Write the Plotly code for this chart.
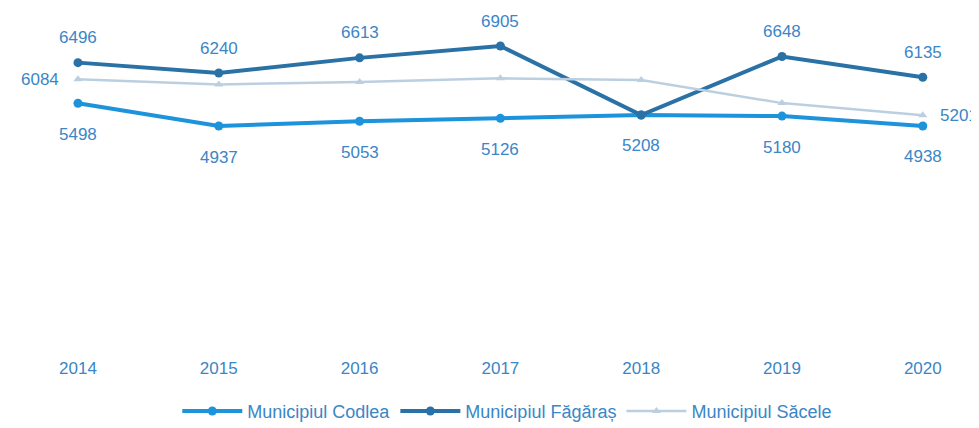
import plotly.graph_objects as go

years = ["2014", "2015", "2016", "2017", "2018", "2019", "2020"]
codlea = [5498, 4937, 5053, 5126, 5208, 5180, 4938]
fagaras = [6496, 6240, 6613, 6905, 5208, 6648, 6135]
fagaras_labels = ["6496", "6240", "6613", "6905", "", "6648", "6135"]
sacele = [6084, 5960, 6020, 6110, 6070, 5500, 5201]
sacele_labels = ["6084", "", "", "", "", "", "5201"]

c_codlea = "#1d93dc"
c_fagaras = "#2a71a6"
c_sacele = "#bccfe0"
lab_col = "#3a86c6"
font_fam = "Liberation Sans, Arial, sans-serif"

fig = go.Figure()
fig.add_trace(go.Scatter(x=years, y=codlea, name="Municipiul Codlea", mode="lines+markers",
                         line=dict(color=c_codlea, width=4), marker=dict(size=9, color=c_codlea)))
fig.add_trace(go.Scatter(x=years, y=fagaras, name="Municipiul Făgăraș", mode="lines+markers",
                         line=dict(color=c_fagaras, width=4), marker=dict(size=9, color=c_fagaras)))
fig.add_trace(go.Scatter(x=years, y=sacele, name="Municipiul Săcele", mode="lines+markers",
                         line=dict(color=c_sacele, width=2.5),
                         marker=dict(size=8, color=c_sacele, symbol="triangle-up")))

lab_font = dict(family=font_fam, size=17, color=lab_col)
for i, (v, t) in enumerate(zip(fagaras, fagaras_labels)):
    if t:
        fig.add_annotation(x=i, y=v, xref="x", yref="y", text=t, showarrow=False,
                           yshift=25, font=lab_font)
for i, v in enumerate(codlea):
    fig.add_annotation(x=i, y=v, xref="x", yref="y", text=str(v), showarrow=False,
                       yshift=-31, font=lab_font)
for i, (v, t) in enumerate(zip(sacele, sacele_labels)):
    if t:
        fig.add_annotation(x=i, y=v, xref="x", yref="y", text=t, showarrow=False,
                           xshift=-38 if i == 0 else 36, font=lab_font)

fig.update_layout(
    width=979, height=428,
    margin=dict(l=0, r=0, t=13, b=80),
    paper_bgcolor="white", plot_bgcolor="white",
    xaxis=dict(type="category", range=[-0.497, 6.456], showgrid=False, zeroline=False,
               showline=False, ticks="",
               tickfont=dict(family=font_fam, size=17, color=lab_col)),
    yaxis=dict(range=[-721, 7520], showticklabels=False, ticks="", showline=False,
               showgrid=False, zeroline=False),
    legend=dict(orientation="h", x=0.51, xanchor="center", y=-0.165, yanchor="middle",
                font=dict(family=font_fam, size=18, color=lab_col), itemwidth=60),
    showlegend=True,
)

fig.write_html("out.html")
